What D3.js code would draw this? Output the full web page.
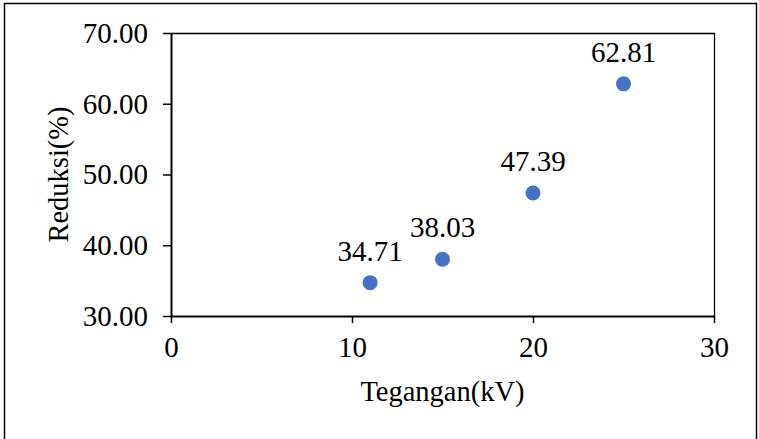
<!DOCTYPE html>
<html>
<head>
<meta charset="utf-8">
<script src="https://cdn.jsdelivr.net/npm/d3@7"></script>
<style>
  html, body { margin: 0; padding: 0; background: #fff; }
  svg { display: block; }
  text { font-family: "Liberation Serif", "Times New Roman", serif; fill: #000; }
</style>
</head>
<body>
<svg id="chart" width="759" height="439"></svg>
<script>
// Voltage (kV) against reduction (%)
const voltages = [11, 15, 20, 25];
const reductions = [34.71, 38.03, 47.39, 62.81];
const xTicks = [0, 10, 20, 30];
const yTicks = [30, 40, 50, 60, 70];
const xTitle = "Tegangan(kV)";
const yTitle = "Reduksi(%)";

const SERIF = '"Liberation Serif", "Times New Roman", serif';
const svg = d3.select("#chart");
const plot = { left: 171, right: 714, top: 33, bottom: 316 };

// outer frame
svg.append("rect")
  .attr("x", 4.5).attr("y", 3.5)
  .attr("width", 752).attr("height", 440)
  .attr("fill", "#fff").attr("stroke", "#000").attr("stroke-width", 1.5);

const x = d3.scaleLinear().domain([0, 30]).range([plot.left, plot.right]);
const y = d3.scaleLinear().domain([30, 70]).range([plot.bottom, plot.top]);

// plot area frame (top and right edges)
svg.append("path")
  .attr("d", `M${plot.left},${plot.top + 0.5}H${plot.right + 0.5}V${plot.bottom}`)
  .attr("fill", "none").attr("stroke", "#000").attr("stroke-width", 1.3);

const xAxis = svg.append("g")
  .attr("transform", `translate(0,${plot.bottom})`)
  .call(d3.axisBottom(x).tickValues(xTicks).tickFormat(d3.format("d"))
    .tickSize(7).tickPadding(13).tickSizeOuter(0));

const yAxis = svg.append("g")
  .attr("transform", `translate(${plot.left},0)`)
  .call(d3.axisLeft(y).tickValues(yTicks).tickFormat(d3.format(".2f"))
    .tickSize(8).tickPadding(15).tickSizeOuter(0));

[xAxis, yAxis].forEach(g => {
  g.attr("font-family", null);
  g.select(".domain").attr("stroke", "#000").attr("stroke-width", 2);
  g.selectAll(".tick line").attr("stroke", "#000").attr("stroke-width", 1.5);
  g.selectAll(".tick text")
    .style("font-family", SERIF)
    .attr("font-size", 29).attr("fill", "#000");
});

// axis titles
svg.append("text")
  .attr("x", (plot.left + plot.right) / 2).attr("y", 401)
  .attr("text-anchor", "middle").attr("font-size", 28.5)
  .style("font-family", SERIF)
  .text(xTitle);

svg.append("text")
  .attr("transform", `translate(68,${(plot.top + plot.bottom) / 2}) rotate(-90)`)
  .attr("text-anchor", "middle").attr("font-size", 28.5)
  .style("font-family", SERIF)
  .text(yTitle);

// points
const pts = voltages.map((v, i) => ({ v, r: reductions[i] }));

svg.append("g").selectAll("circle").data(pts).join("circle")
  .attr("cx", d => x(d.v)).attr("cy", d => y(d.r))
  .attr("r", 7.5).attr("fill", "#4472C4");

// value labels
svg.append("g").selectAll("text").data(pts).join("text")
  .attr("x", d => x(d.v)).attr("y", d => y(d.r) - 22)
  .attr("text-anchor", "middle").attr("font-size", 29)
  .style("font-family", SERIF)
  .text(d => d.r.toFixed(2));
</script>
</body>
</html>
